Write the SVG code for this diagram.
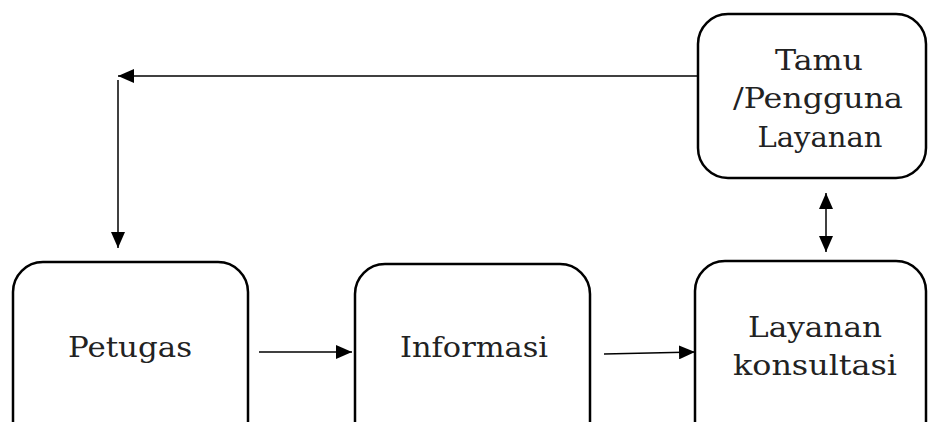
<svg xmlns="http://www.w3.org/2000/svg" width="928" height="422" viewBox="0 0 928 422">
<defs>
<style>
.box{fill:#fff;stroke:#000;stroke-width:2.5}
.lbl{font-family:"DejaVu Serif","Liberation Serif",serif;font-size:27px;fill:#222;text-anchor:middle}
.lg{font-size:28px}
.ln{stroke:#000;stroke-width:1.5;fill:none}
</style>
<marker id="ahL" viewBox="0 0 16 14" refX="16" refY="7" markerWidth="16" markerHeight="14" markerUnits="userSpaceOnUse" orient="auto-start-reverse">
<path d="M0,0 L16,7 L0,14 z" fill="#000"/>
</marker>
</defs>
<rect width="928" height="422" fill="#fff"/>
<g id="tamu">
<rect class="box" x="698" y="14" width="228" height="164" rx="30"/>
<text class="lbl" x="819" y="70" textLength="88" lengthAdjust="spacingAndGlyphs">Tamu</text>
<text class="lbl" x="818" y="108" textLength="170" lengthAdjust="spacingAndGlyphs">/Pengguna</text>
<text class="lbl" x="820" y="147" textLength="125" lengthAdjust="spacingAndGlyphs">Layanan</text>
</g>
<g id="petugas">
<rect class="box" x="13" y="262" width="235" height="190" rx="30"/>
<text class="lbl" x="130" y="357" textLength="124" lengthAdjust="spacingAndGlyphs">Petugas</text>
</g>
<g id="informasi">
<rect class="box" x="355" y="264" width="235" height="190" rx="30"/>
<text class="lbl" x="474" y="357" textLength="148" lengthAdjust="spacingAndGlyphs">Informasi</text>
</g>
<g id="layanan">
<rect class="box" x="695" y="261" width="231" height="190" rx="30"/>
<text class="lbl lg" x="815" y="337" textLength="134" lengthAdjust="spacingAndGlyphs">Layanan</text>
<text class="lbl lg" x="815" y="375" textLength="164" lengthAdjust="spacingAndGlyphs">konsultasi</text>
</g>
<g id="connectors">
<polyline class="ln" points="697,76 118,76" marker-end="url(#ahL)"/>
<line class="ln" x1="118" y1="80" x2="118" y2="248" marker-end="url(#ahL)"/>
<line class="ln" x1="259" y1="352" x2="352" y2="352" marker-end="url(#ahL)"/>
<line class="ln" x1="604" y1="354" x2="695" y2="352" marker-end="url(#ahL)"/>
<line class="ln" x1="826" y1="193" x2="826" y2="252" marker-start="url(#ahL)" marker-end="url(#ahL)"/>
</g>
</svg>
